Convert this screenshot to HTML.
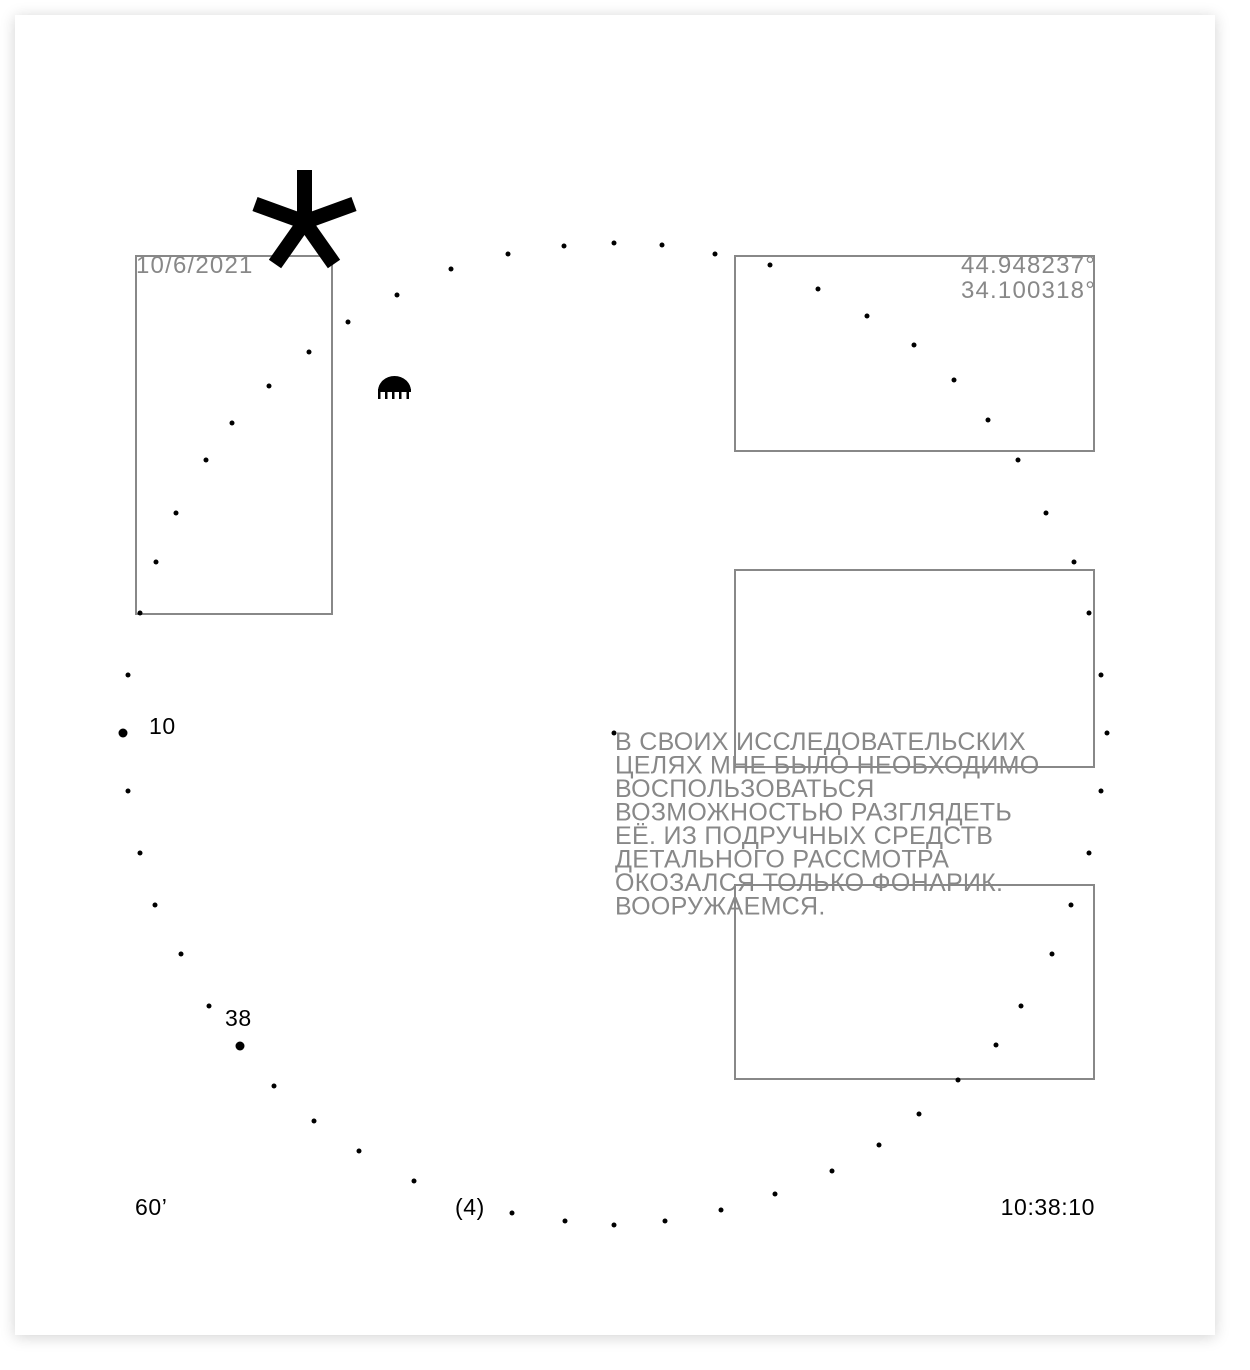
<!DOCTYPE html>
<html><head><meta charset="utf-8"><style>
html,body{margin:0;padding:0;background:#fff;}
body{width:1250px;height:1370px;position:relative;overflow:hidden;font-family:"Liberation Sans",sans-serif;}
.card{position:absolute;left:15px;top:15px;width:1200px;height:1320px;background:#fff;box-shadow:0 2px 14px rgba(0,0,0,0.18);}
svg{position:absolute;left:0;top:0;}
</style></head><body>
<div class="card"></div>
<svg width="1250" height="1370" viewBox="0 0 1250 1370" xmlns="http://www.w3.org/2000/svg">
<g fill="none" stroke="#888" stroke-width="2">
<rect x="136" y="256" width="196" height="358"/>
<rect x="735" y="256" width="359" height="195"/>
<rect x="735" y="570" width="359" height="197"/>
<rect x="735" y="885" width="359" height="194"/>
</g>
<g fill="#000" id="dots"></g>
<g fill="#000">
<circle cx="123" cy="733" r="4.5"/>
<circle cx="240" cy="1046" r="4.5"/>
</g>
<g stroke="#000" stroke-width="15" stroke-linecap="butt">
<line x1="304.5" y1="170" x2="304.5" y2="224"/>
<line x1="304.5" y1="222" x2="255" y2="204"/>
<line x1="304.5" y1="222" x2="354" y2="204"/>
<line x1="304.5" y1="222" x2="275" y2="264"/>
<line x1="304.5" y1="222" x2="334" y2="264"/>
</g>
<path d="M378 391 A16.5 15 0 0 1 411 391 Z" fill="#000"/>
<rect x="378" y="389" width="33" height="3" fill="#000"/>
<g fill="#000">
<rect x="378" y="391" width="2.5" height="8"/><rect x="385" y="391" width="2.5" height="8"/><rect x="392" y="391" width="2.5" height="8"/><rect x="399" y="391" width="2.5" height="8"/><rect x="406.5" y="391" width="2.5" height="8"/>
</g>
<g font-family="Liberation Sans, sans-serif" fill="#888" font-size="24" letter-spacing="1.2">
<text x="136" y="273">10/6/2021</text>
<text x="1096" y="273" text-anchor="end">44.948237°</text>
<text x="1096" y="298" text-anchor="end">34.100318°</text>
</g>
<g font-family="Liberation Sans, sans-serif" fill="#888" font-size="25" letter-spacing="0.3">
<text x="615" y="750">В СВОИХ ИССЛЕДОВАТЕЛЬСКИХ</text>
<text x="615" y="773.5">ЦЕЛЯХ МНЕ БЫЛО НЕОБХОДИМО</text>
<text x="615" y="797">ВОСПОЛЬЗОВАТЬСЯ</text>
<text x="615" y="820.5">ВОЗМОЖНОСТЬЮ РАЗГЛЯДЕТЬ</text>
<text x="615" y="844">ЕЁ. ИЗ ПОДРУЧНЫХ СРЕДСТВ</text>
<text x="615" y="867.5">ДЕТАЛЬНОГО РАССМОТРА</text>
<text x="615" y="891">ОКОЗАЛСЯ ТОЛЬКО ФОНАРИК.</text>
<text x="615" y="914.5">ВООРУЖАЕМСЯ.</text>
</g>
<g font-family="Liberation Sans, sans-serif" fill="#000" font-size="23" letter-spacing="0.6">
<text x="149" y="734">10</text>
<text x="225" y="1026">38</text>
<text x="135" y="1215">60’</text>
<text x="455" y="1215">(4)</text>
<text x="1095" y="1215" text-anchor="end">10:38:10</text>
</g>
</svg>
<script>
var pts=[[614,243],[662,245],[715,254],[770,265],[818,289],[867,316],[914,345],[954,380],[988,420],[1018,460],[1046,513],[1074,562],[1089,613],[1101,675],[1107,733],[1101,791],[1089,853],[1071,905],[1052,954],[1021,1006],[996,1045],[958,1080],[919,1114],[879,1145],[832,1171],[775,1194],[721,1210],[665,1221],[614,1225],[565,1221],[512,1213],[414,1181],[359,1151],[314,1121],[274,1086],[209,1006],[181,954],[155,905],[140,853],[128,791],[128,675],[140,613],[156,562],[176,513],[206,460],[232,423],[269,386],[309,352],[348,322],[397,295],[451,269],[508,254],[564,246],[614,733]];
var g=document.getElementById('dots'),s='';
pts.forEach(function(p){s+='<circle cx="'+p[0]+'" cy="'+p[1]+'" r="2.5"/>';});
g.innerHTML=s;
</script>
</body></html>
